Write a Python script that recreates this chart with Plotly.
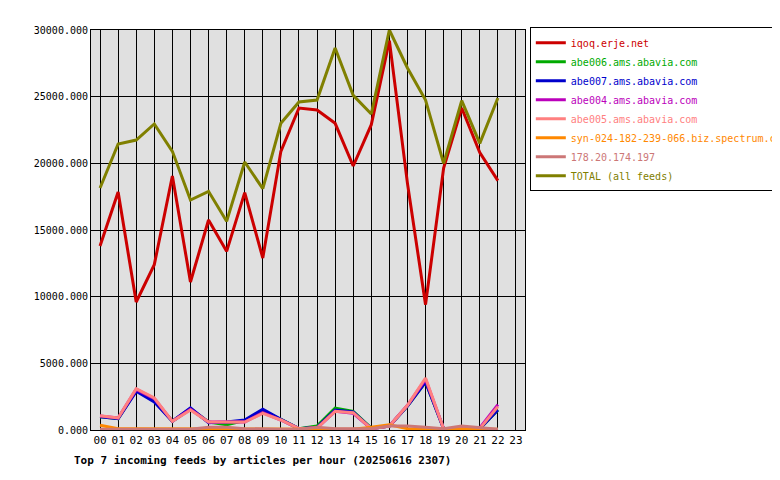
import plotly.graph_objs as go

hours = ["%02d" % h for h in range(24)]

iqoq = [13800, 17850, 9600, 12400, 19050, 11100, 15750, 13400, 17800, 12900, 20900, 24150,
        24000, 23000, 19800, 22900, 29200, 18500, 9400, 19650, 24150, 20800, 18700]
abe006 = [1000, 850, 2950, 2200, 650, 1600, 600, 400, 700, 1450, 800, 100,
          300, 1650, 1400, 150, 300, 1800, 3600, 100, 100, 100, 1500]
abe007 = [1000, 850, 2900, 2100, 650, 1650, 550, 600, 750, 1550, 800, 100,
          200, 1500, 1350, 100, 300, 1800, 3600, 100, 100, 100, 1500]
abe004 = [1050, 900, 3050, 2350, 650, 1550, 600, 600, 600, 1300, 750, 100,
          150, 1400, 1250, 100, 300, 1850, 3800, 100, 100, 150, 1900]
abe005 = [1070, 900, 3100, 2400, 650, 1500, 600, 600, 600, 1250, 750, 100,
          150, 1400, 1300, 100, 300, 1850, 3900, 100, 100, 100, 1750]
syn = [350, 100, 100, 100, 100, 100, 100, 100, 100, 50, 50, 50,
       50, 50, 50, 200, 400, 100, 100, 50, 100, 50, 50]
ip178 = [50, 50, 50, 50, 50, 50, 200, 200, 100, 50, 50, 50,
         200, 100, 100, 100, 300, 300, 200, 100, 300, 200, 50]
total = [18150, 21450, 21750, 22950, 20900, 17250, 17900, 15650, 20100, 18100, 23000, 24600,
         24750, 28650, 25100, 23700, 30000, 27150, 24750, 20000, 24700, 21500, 24900]

series = [
    ("iqoq.erje.net", iqoq, "#cc0000"),
    ("abe006.ams.abavia.com", abe006, "#00aa00"),
    ("abe007.ams.abavia.com", abe007, "#0000cc"),
    ("abe004.ams.abavia.com", abe004, "#bb00bb"),
    ("abe005.ams.abavia.com", abe005, "#ff8080"),
    ("syn-024-182-239-066.biz.spectrum.com", syn, "#ff8800"),
    ("178.20.174.197", ip178, "#cc7777"),
    ("TOTAL (all feeds)", total, "#808000"),
]

fig = go.Figure()
for name, vals, col in series:
    fig.add_trace(go.Scatter(x=list(range(len(vals))), y=vals, mode="lines",
                             line=dict(color=col, width=3),
                             name="<span style='color:%s'>%s</span>" % (col, name)))

fig.update_layout(
    width=780, height=480,
    margin=dict(l=83, r=263, t=22, b=58, autoexpand=False),
    paper_bgcolor="white", plot_bgcolor="#e0e0e0",
    font=dict(family="DejaVu Sans Mono", size=11, color="black"),
    legend=dict(xref="container", yref="container", x=0.669, y=0.96,
                xanchor="left", yanchor="top",
                bordercolor="black", borderwidth=1, bgcolor="white",
                tracegroupgap=0, itemwidth=30, font=dict(size=10)),
    xaxis=dict(range=[-0.5, 23.5], tickvals=list(range(24)), ticktext=hours,
               showgrid=True, gridcolor="black", gridwidth=1, zeroline=False,
               showline=True, linecolor="black", mirror=True, ticks=""),
    yaxis=dict(range=[0, 30000], dtick=5000, tickformat=".3f",
               showgrid=True, gridcolor="black", gridwidth=1, zeroline=False,
               showline=True, linecolor="black", mirror=True, ticks="",
               tickfont=dict(size=10)),
    annotations=[dict(text="<b>Top 7 incoming feeds by articles per hour (20250616 2307)</b>",
                      xref="paper", yref="paper", x=-0.043, y=-0.055,
                      xanchor="left", yanchor="top", showarrow=False,
                      font=dict(size=11))],
)

fig.write_html("out.html")
